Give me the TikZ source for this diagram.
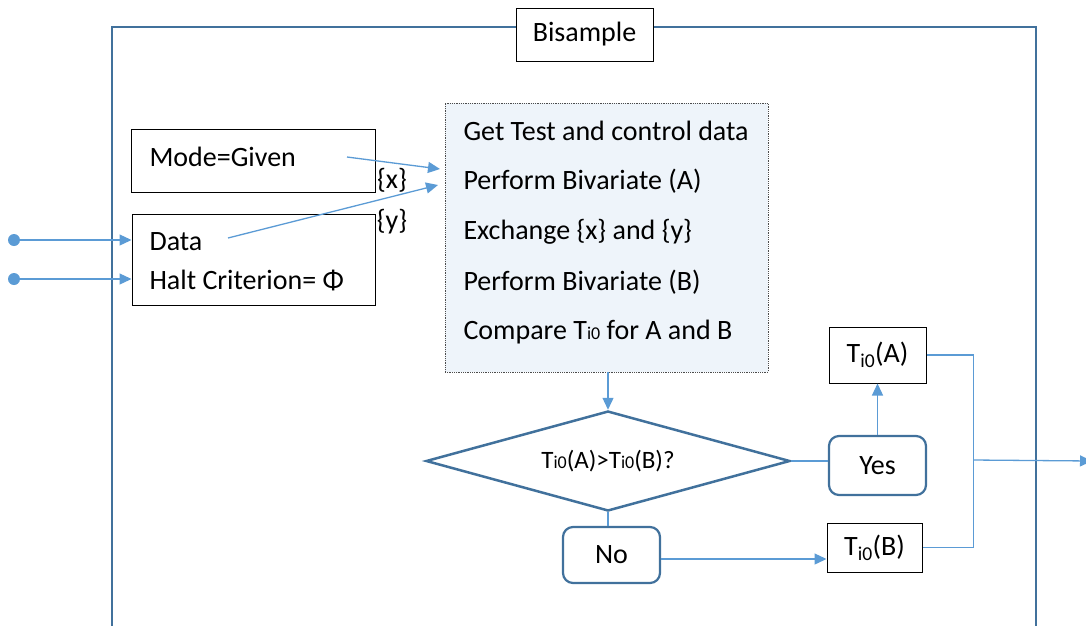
\documentclass[tikz,border=0pt]{standalone}
\usepackage{fontspec}
\setmainfont{Carlito}
\usetikzlibrary{shapes.geometric,arrows.meta}
\definecolor{frameblue}{HTML}{41719C}
\definecolor{lineblue}{HTML}{5B9BD5}
\definecolor{panelfill}{HTML}{EEF4FA}
\newcommand{\smsub}[1]{{\fontsize{18}{18}\selectfont #1}}

\begin{document}
\begin{tikzpicture}[x=1pt,y=-1pt,
  every node/.style={font=\fontsize{28}{32}\selectfont},
  plainbox/.style={draw=black,line width=1pt,fill=white,inner sep=0pt},
  roundbox/.style={draw=frameblue,line width=2.2pt,rounded corners=10pt,fill=white,inner sep=0pt},
  decision/.style={diamond,draw=frameblue,line width=2.5pt,fill=white,inner sep=0pt,
    minimum width=364pt,minimum height=100pt,aspect=3.64,font=\fontsize{25}{30}\selectfont},
  link/.style={draw=lineblue,line width=1.3pt},
  arrow/.style={link,-{Triangle[length=12pt,width=11pt]}},
  dot/.style={circle,fill=lineblue,inner sep=0pt,minimum size=12pt}]
  \useasboundingbox (0,0) rectangle (1086,625);
  % outer frame and title
  \draw[frameblue,line width=2pt] (112,27) rectangle (1036,660);
  \node[plainbox,minimum width=137pt,minimum height=53pt] (title) at (584.5,34.5) {Bisample};
  % parameter boxes
  \node[plainbox,minimum width=244pt,minimum height=63pt] (mode) at (253,160.5) {};
  \node[anchor=west] (modetxt) at (146,157) {Mode=Given};
  \node[plainbox,minimum width=243pt,minimum height=91pt] (data) at (253.5,259.5) {};
  \node[anchor=west] (datatxt) at (146,242) {Data};
  \node[anchor=west] (halttxt) at (146,280) {Halt Criterion= Φ};
  \node (xset) at (392,180) {\{x\}};
  \node (yset) at (392,222) {\{y\}};
  % inputs
  \node[dot] (in1) at (14,240) {};
  \node[dot] (in2) at (14,279) {};
  \draw[arrow] (in1) -- (data.west |- in1);
  \draw[arrow] (in2) -- (data.west |- in2);
  % processing panel
  \node[draw=gray!60!black,densely dotted,line width=0.8pt,fill=panelfill,
    minimum width=323pt,minimum height=269pt] (panel) at (606.5,237.5) {};
  \foreach \txt [count=\i] in {Get Test and control data, Perform Bivariate (A),
      Exchange \{x\} and \{y\}, Perform Bivariate (B), Compare T\smsub{i0} for A and B}
    \node[anchor=west] (line\i) at (460,{131+50.25*(\i-1)}) {\txt};
  \coordinate (modeout) at (347,157);
  \coordinate (modein) at (440,169);
  \coordinate (dataout) at (228,238);
  \coordinate (datain) at (438,185);
  \draw[arrow] (modeout) -- (modein);
  \draw[arrow] (dataout) -- (datain);
  % decision
  \node[decision] (cmp) at (608,461) {T\smsub{i0}(A)>T\smsub{i0}(B)?};
  \draw[arrow] (panel.south -| cmp.north) -- (cmp.north);
  \node[roundbox,minimum width=97pt,minimum height=59pt] (yes) at (877.5,465.5) {Yes};
  \node[roundbox,minimum width=97pt,minimum height=56pt] (no) at (611.5,555) {No};
  \node[plainbox,minimum width=97pt,minimum height=56pt] (ta) at (877.5,355) {T\textsubscript{i0}(A)};
  \node[plainbox,minimum width=95pt,minimum height=49pt] (tb) at (874.5,547.5) {T\textsubscript{i0}(B)};
  \draw[link] (cmp.east) -- (cmp.east -| yes.west);
  \draw[link] (cmp.south) -- (cmp.south |- no.north);
  \draw[arrow] (yes.north -| ta.south) -- (ta.south);
  \draw[arrow] (no.east |- 0,559) -- (tb.west |- 0,559);
  % results
  \draw[link] (ta.east) -- ++(47,0) |- (tb.east);
  \coordinate (merge) at (973,460);
  \coordinate (out) at (1092,461);
  \draw[arrow] (merge) -- (out);
\end{tikzpicture}
\end{document}
